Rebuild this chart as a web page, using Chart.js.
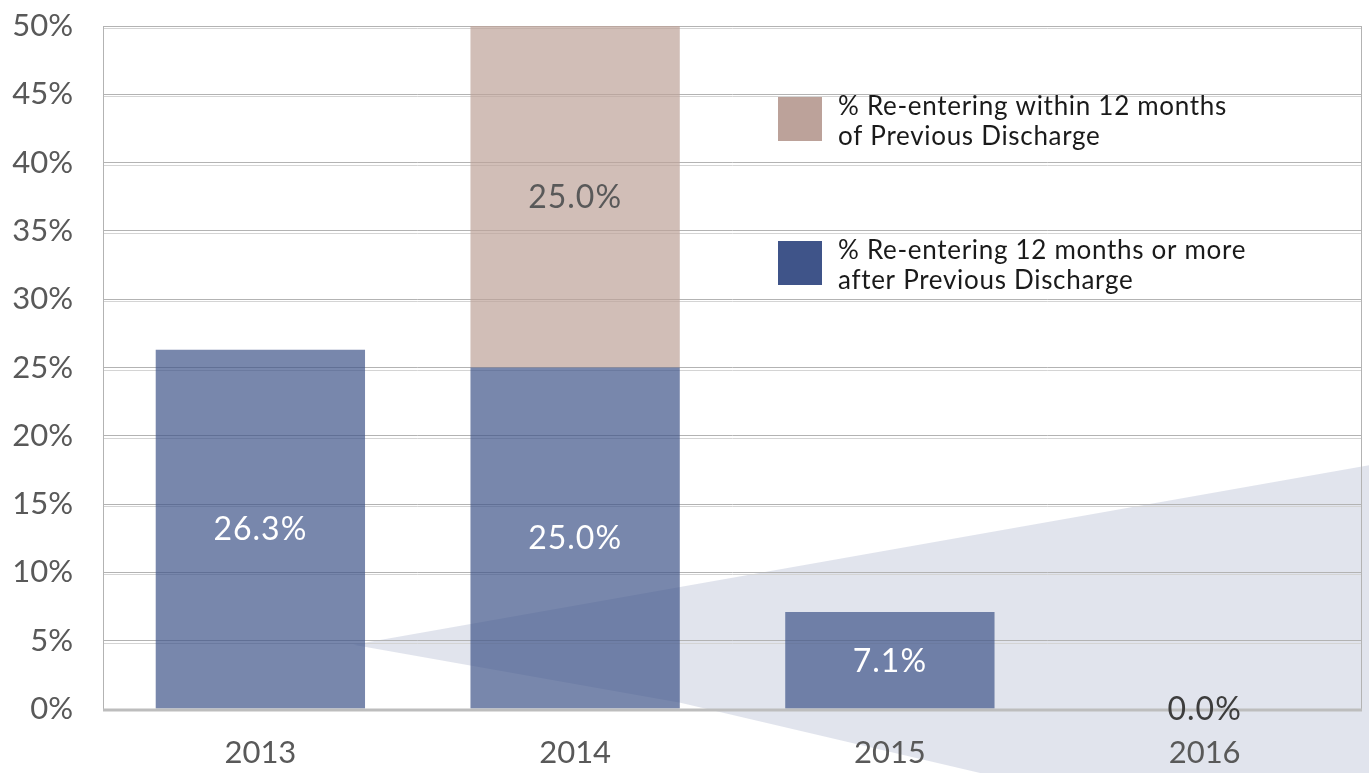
<!DOCTYPE html>
<html>
<head>
<meta charset="utf-8">
<script src="https://cdn.jsdelivr.net/npm/chart.js@4.4.1/dist/chart.umd.min.js"></script>
<style>
  html, body { margin: 0; padding: 0; background: #fff; }
  #wrap { width: 1369px; height: 773px; position: relative; }
</style>
</head>
<body>
<div id="wrap"><canvas id="reentryChart"></canvas></div>
<script>
const years = ["2013", "2014", "2015", "2016"];
const afterTwelve = [26.3, 25.0, 7.1, 0.0];
const withinTwelve = [null, 25.0, null, null];
const yTicks = [0, 5, 10, 15, 20, 25, 30, 35, 40, 45, 50];

const seriesNames = {
  within: ["% Re-entering within 12 months", "of Previous Discharge"],
  after: ["% Re-entering 12 months or more", "after Previous Discharge"],
};

const FONT = "Lato, 'Open Sans', sans-serif";

// background wedge, white fill, double grid lines and frame
const backdrop = {
  id: "backdrop",
  beforeDraw(chart) {
    const { ctx, width, height } = chart;
    ctx.save();
    ctx.fillStyle = "#fff";
    ctx.fillRect(0, 0, width, height);
    ctx.fillStyle = "rgba(68, 85, 140, 0.16)";
    ctx.beginPath();
    ctx.moveTo(width * 0.258, height * 0.834);
    ctx.lineTo(width, height * 0.602);
    ctx.lineTo(width, height);
    ctx.lineTo(width * 0.716, height);
    ctx.lineTo(width * 0.497, height * 0.909);
    ctx.closePath();
    ctx.fill();
    ctx.restore();
  },
  beforeDatasetsDraw(chart) {
    const { ctx, chartArea: a, scales } = chart;
    ctx.save();
    // second, lighter line under each grid line
    ctx.strokeStyle = "#d4d4d4";
    ctx.lineWidth = 1;
    scales.y.ticks.forEach((t) => {
      if (t.value === 0) return;
      const y = Math.round(scales.y.getPixelForValue(t.value)) + 2.5;
      ctx.beginPath();
      ctx.moveTo(a.left, y);
      ctx.lineTo(a.right, y);
      ctx.stroke();
    });
    ctx.strokeStyle = "#b3b3b3";
    ctx.beginPath();
    ctx.moveTo(a.left + 0.5, a.bottom);
    ctx.lineTo(a.left + 0.5, a.top + 0.5);
    ctx.lineTo(a.right - 0.5, a.top + 0.5);
    ctx.lineTo(a.right - 0.5, a.bottom);
    ctx.stroke();
    ctx.restore();
  },
  afterDatasetsDraw(chart) {
    const { ctx, chartArea: a } = chart;
    ctx.save();
    ctx.strokeStyle = "#bdbdbd";
    ctx.lineWidth = 3;
    ctx.beginPath();
    ctx.moveTo(a.left, a.bottom + 1);
    ctx.lineTo(a.right, a.bottom + 1);
    ctx.stroke();
    ctx.restore();
  },
};

// value labels in the middle of each bar
const barLabels = {
  id: "barLabels",
  afterDraw(chart) {
    const ctx = chart.ctx;
    ctx.save();
    ctx.font = "32px " + FONT;
    ctx.letterSpacing = "1px";
    ctx.textAlign = "center";
    ctx.textBaseline = "middle";
    chart.data.datasets.forEach((ds, i) => {
      chart.getDatasetMeta(i).data.forEach((bar, j) => {
        const v = ds.data[j];
        if (v == null) return;
        ctx.fillStyle = v === 0 ? "#3d3d3d" : ds.labelColor;
        ctx.fillText(v.toFixed(1) + "%", bar.x, (bar.y + bar.base) / 2 + 1);
      });
    });
    ctx.restore();
  },
};

// legend placed inside the plot, top series first
const boxLegend = {
  id: "boxLegend",
  afterDraw(chart) {
    const ctx = chart.ctx;
    const rows = chart.data.datasets.slice().reverse();
    ctx.save();
    ctx.font = "26px " + FONT;
    ctx.letterSpacing = "0.7px";
    ctx.textBaseline = "middle";
    rows.forEach((ds, i) => {
      const top = 97 + i * 144;
      ctx.fillStyle = ds.legendColor;
      ctx.fillRect(778, top, 44, 44);
      ctx.fillStyle = "#1a1a1a";
      ds.legendLines.forEach((line, k) => {
        ctx.fillText(line, 838, top + 10 + k * 30);
      });
    });
    ctx.restore();
  },
};

function initChart() {
  const ctx = document.getElementById("reentryChart").getContext("2d");
  new Chart(ctx, {
    type: "bar",
    data: {
      labels: years,
      datasets: [
        {
          label: seriesNames.after.join(" "),
          legendLines: seriesNames.after,
          data: afterTwelve,
          backgroundColor: "rgba(63, 84, 137, 0.7)",
          legendColor: "#3f5489",
          labelColor: "#ffffff",
          categoryPercentage: 1,
          barPercentage: 0.665,
        },
        {
          label: seriesNames.within.join(" "),
          legendLines: seriesNames.within,
          data: withinTwelve,
          backgroundColor: "rgba(189, 162, 153, 0.7)",
          legendColor: "#bca29a",
          labelColor: "#595959",
          categoryPercentage: 1,
          barPercentage: 0.665,
        },
      ],
    },
    options: {
      responsive: true,
      maintainAspectRatio: false,
      animation: false,
      layout: { autoPadding: false, padding: { top: 26, right: 7, left: 0, bottom: 0 } },
      scales: {
        x: {
          stacked: true,
          grid: { display: false },
          border: { display: false },
          ticks: {
            color: "#595959",
            font: { family: FONT, size: 31 },
            padding: 17,
          },
          afterFit: (s) => { s.height = 64; },
        },
        y: {
          stacked: true,
          min: 0,
          max: 50,
          afterBuildTicks: (s) => { s.ticks = yTicks.map((v) => ({ value: v })); },
          grid: { color: "#b3b3b3", lineWidth: 1, drawTicks: false },
          border: { display: false },
          ticks: {
            color: "#595959",
            font: { family: FONT, size: 31 },
            padding: 30,
            callback: (v) => v + "%",
          },
          afterFit: (s) => { s.width = 103; s.paddingTop = 0; s.paddingBottom = 0; },
        },
      },
      plugins: {
        legend: { display: false },
        tooltip: { enabled: false },
      },
    },
    plugins: [backdrop, barLabels, boxLegend],
  });
}

document.addEventListener("DOMContentLoaded", initChart);
</script>
</body>
</html>
